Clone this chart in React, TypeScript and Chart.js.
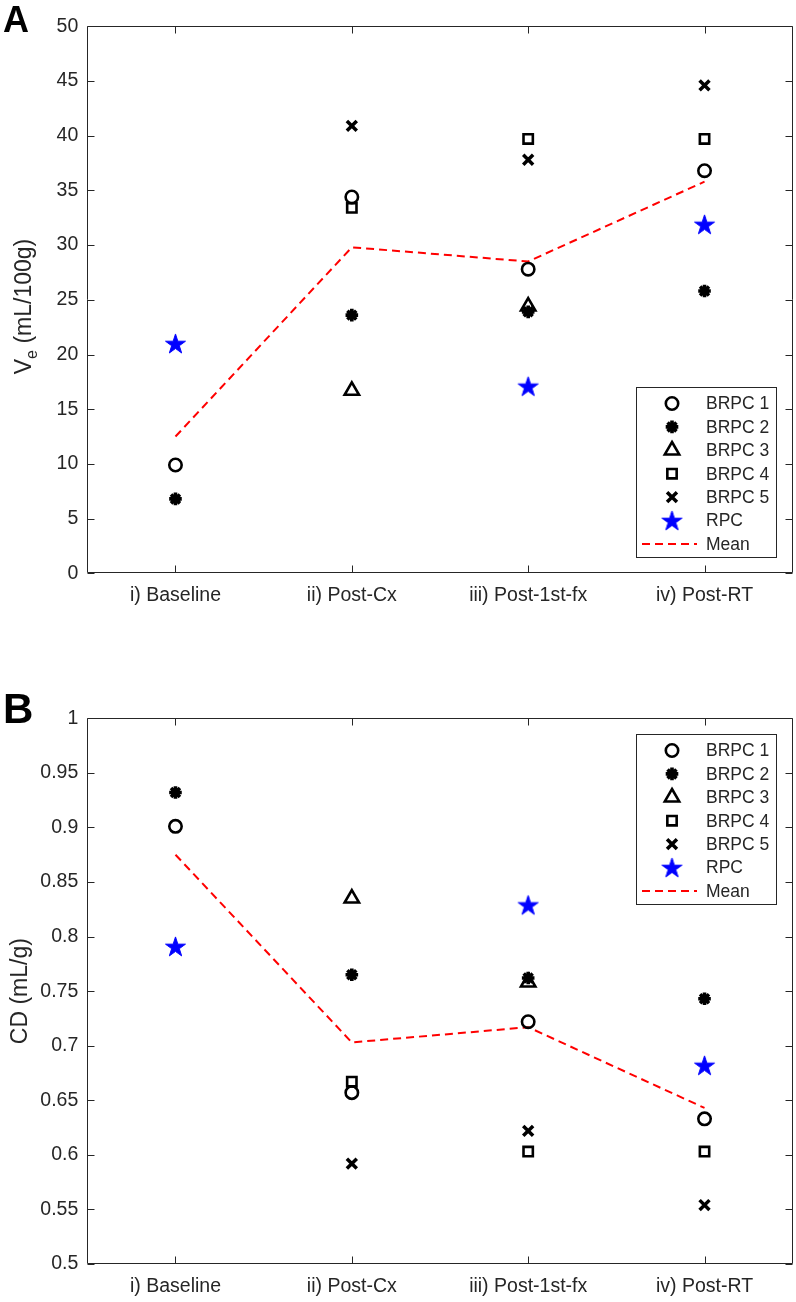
import React, { useEffect, useRef } from 'react';
import { Chart, registerables } from 'chart.js';
import { drawPoint } from 'chart.js/helpers';

Chart.register(...registerables);

// ---------- data ----------
const categories = ['i) Baseline', 'ii) Post-Cx', 'iii) Post-1st-fx', 'iv) Post-RT'];
const seriesNames = ['BRPC 1', 'BRPC 2', 'BRPC 3', 'BRPC 4', 'BRPC 5', 'RPC', 'Mean'];

// Panel A: Ve (mL/100g)
const veBRPC1 = [9.9, 34.4, 27.8, 36.8];
const veBRPC2 = [6.8, 23.6, 23.9, 25.8];
const veBRPC3 = [null, 16.7, 24.4, null];
const veBRPC4 = [null, 33.4, 39.7, 39.7];
const veBRPC5 = [null, 40.9, 37.8, 44.6];
const veRPC = [21.0, null, 17.1, 31.9];
const veMean = [12.5, 29.8, 28.5, 35.8];
const veTicks = [0, 5, 10, 15, 20, 25, 30, 35, 40, 45, 50];

// Panel B: CD (mL/g)
const cdBRPC1 = [0.901, 0.657, 0.722, 0.633];
const cdBRPC2 = [0.932, 0.765, 0.762, 0.743];
const cdBRPC3 = [null, 0.835, 0.758, null];
const cdBRPC4 = [null, 0.667, 0.603, 0.603];
const cdBRPC5 = [null, 0.592, 0.622, 0.554];
const cdRPC = [0.791, null, 0.829, 0.682];
const cdMean = [0.875, 0.703, 0.717, 0.643];
const cdTicks = [0.5, 0.55, 0.6, 0.65, 0.7, 0.75, 0.8, 0.85, 0.9, 0.95, 1];

// ---------- styling ----------
const AXIS = '#262626';
const FONT = '"Liberation Sans", Arial, Helvetica, sans-serif';
const W = 796;
const H = 651;

function makePentagram(color: string, R: number): HTMLCanvasElement {
  const size = Math.ceil(R * 2 + 2);
  const c = document.createElement('canvas');
  c.width = size;
  c.height = size;
  const g = c.getContext('2d')!;
  const cx = size / 2;
  const cy = size / 2 + R * 0.09;
  g.beginPath();
  for (let k = 0; k < 10; k++) {
    const r = k % 2 === 0 ? R : R * 0.382;
    const a = -Math.PI / 2 + (k * Math.PI) / 5;
    const px = cx + r * Math.cos(a);
    const py = cy + r * Math.sin(a);
    if (k === 0) g.moveTo(px, py);
    else g.lineTo(px, py);
  }
  g.closePath();
  g.fillStyle = color;
  g.fill();
  g.strokeStyle = color;
  g.lineWidth = 1;
  g.stroke();
  return c;
}

const framePlugin = {
  id: 'matFrame',
  beforeDatasetsDraw(chart: any) {
    const { ctx, chartArea: a, scales } = chart;
    const L = Math.round(a.left) + 0.5;
    const R = Math.round(a.right) - 0.5;
    const T = Math.round(a.top) + 0.5;
    const B = Math.round(a.bottom) - 0.5;
    const tl = 7;
    ctx.save();
    ctx.strokeStyle = AXIS;
    ctx.lineWidth = 1;
    ctx.beginPath();
    ctx.rect(L, T, R - L, B - T);
    scales.y.ticks.forEach((t: any) => {
      const y = Math.round(scales.y.getPixelForValue(t.value)) + 0.5;
      ctx.moveTo(L, y);
      ctx.lineTo(L + tl, y);
      ctx.moveTo(R, y);
      ctx.lineTo(R - tl, y);
    });
    scales.x.ticks.forEach((_t: any, i: number) => {
      const x = Math.round(scales.x.getPixelForTick(i)) + 0.5;
      ctx.moveTo(x, B);
      ctx.lineTo(x, B - tl);
      ctx.moveTo(x, T);
      ctx.lineTo(x, T + tl);
    });
    ctx.stroke();
    ctx.restore();
  },
};

const textPlugin = {
  id: 'matText',
  afterDraw(chart: any, _args: any, opts: any) {
    const { ctx } = chart;
    ctx.save();
    ctx.fillStyle = '#000';
    ctx.font = `bold ${opts.letterSize}px ${FONT}`;
    ctx.textAlign = 'left';
    ctx.textBaseline = 'alphabetic';
    ctx.fillText(opts.letter, opts.letterX, opts.letterY);
    ctx.fillStyle = AXIS;
    const parts = opts.titleParts as { text: string; size: number; dy: number }[];
    let total = 0;
    parts.forEach((p) => {
      ctx.font = `${p.size}px ${FONT}`;
      total += ctx.measureText(p.text).width;
    });
    const a = chart.chartArea;
    const cy = opts.titleCy != null ? opts.titleCy : (a.top + a.bottom) / 2;
    ctx.translate(opts.titleX, cy);
    ctx.rotate(-Math.PI / 2);
    let x = -total / 2;
    parts.forEach((p) => {
      ctx.font = `${p.size}px ${FONT}`;
      ctx.fillText(p.text, x, p.dy);
      x += ctx.measureText(p.text).width;
    });
    ctx.restore();
  },
};

const legendPlugin = {
  id: 'matLegend',
  afterDraw(chart: any, _args: any, opts: any) {
    const { ctx, chartArea: a } = chart;
    const bw = opts.width;
    const bh = opts.height;
    const left = a.right - opts.offsetRight - bw;
    const top = opts.anchor === 'bottom' ? a.bottom - opts.offsetBottom - bh : a.top + opts.offsetTop;
    ctx.save();
    const L = Math.round(left) + 0.5;
    const T = Math.round(top) + 0.5;
    ctx.fillStyle = '#fff';
    ctx.fillRect(L, T, bw, bh);
    ctx.strokeStyle = AXIS;
    ctx.lineWidth = 1;
    ctx.strokeRect(L, T, Math.round(bw), Math.round(bh));
    chart.data.datasets.forEach((ds: any, i: number) => {
      const cy = top + 16.5 + i * 23.4;
      if (ds.showLine === false) {
        ctx.save();
        ctx.strokeStyle = ds.pointBorderColor;
        ctx.fillStyle = ds.pointBackgroundColor;
        ctx.lineWidth = ds.pointBorderWidth;
        ctx.setLineDash([]);
        drawPoint(
          ctx,
          { pointStyle: ds.pointStyle, radius: ds.pointRadius, borderWidth: ds.pointBorderWidth, rotation: 0 } as any,
          left + 36,
          cy
        );
        ctx.restore();
      } else {
        ctx.save();
        ctx.strokeStyle = ds.borderColor;
        ctx.lineWidth = ds.borderWidth;
        ctx.setLineDash(ds.borderDash || []);
        ctx.beginPath();
        ctx.moveTo(left + 6, cy);
        ctx.lineTo(left + 61, cy);
        ctx.stroke();
        ctx.restore();
      }
      ctx.fillStyle = AXIS;
      ctx.font = `${opts.fontSize}px ${FONT}`;
      ctx.textAlign = 'left';
      ctx.textBaseline = 'middle';
      ctx.fillText(ds.label, left + 70, cy + 1);
    });
    ctx.restore();
  },
};

type Spec = {
  values: (number | null)[][];
  mean: number[];
  ticks: number[];
  padTop: number;
  xHeight: number;
  letter: string;
  letterSize: number;
  letterY: number;
  titleParts: { text: string; size: number; dy: number }[];
  titleX: number;
  titleCy?: number;
  legend: any;
};

function buildConfig(spec: Spec, star: HTMLCanvasElement): any {
  const markerStyles = [
    { pointStyle: 'circle', pointRadius: 6.2, pointBorderWidth: 2.6 },
    { pointStyle: 'star', pointRadius: 6.3, pointBorderWidth: 3.6 },
    { pointStyle: 'triangle', pointRadius: 8.3, pointBorderWidth: 2.6 },
    { pointStyle: 'rect', pointRadius: 6.6, pointBorderWidth: 2.6 },
    { pointStyle: 'crossRot', pointRadius: 7, pointBorderWidth: 3.5 },
    { pointStyle: star, pointRadius: 10, pointBorderWidth: 0 },
  ];
  const datasets: any[] = spec.values.map((vals, i) => ({
    label: seriesNames[i],
    data: vals,
    showLine: false,
    pointStyle: markerStyles[i].pointStyle,
    pointRadius: markerStyles[i].pointRadius,
    pointHoverRadius: markerStyles[i].pointRadius,
    pointBorderWidth: markerStyles[i].pointBorderWidth,
    pointHoverBorderWidth: markerStyles[i].pointBorderWidth,
    pointBorderColor: '#000000',
    pointBackgroundColor: 'rgba(0,0,0,0)',
  }));
  datasets.push({
    label: seriesNames[6],
    data: spec.mean,
    showLine: true,
    borderColor: '#ff0000',
    borderWidth: 2,
    borderDash: [8, 5],
    pointRadius: 0,
    pointHoverRadius: 0,
    fill: false,
    tension: 0,
  });
  const ticks = spec.ticks;
  return {
    type: 'line',
    data: { labels: categories, datasets },
    options: {
      responsive: false,
      animation: false,
      devicePixelRatio: 1,
      events: [],
      layout: { autoPadding: false, padding: { top: spec.padTop, right: 3.3, bottom: 0, left: 0 } },
      scales: {
        x: {
          type: 'category',
          offset: true,
          grid: { display: false, drawTicks: false, tickLength: 0 },
          border: { display: false },
          ticks: { color: AXIS, font: { family: FONT, size: 19.5 }, padding: 11, maxRotation: 0, autoSkip: false },
          afterFit: (s: any) => {
            s.height = spec.xHeight;
          },
        },
        y: {
          type: 'linear',
          min: ticks[0],
          max: ticks[ticks.length - 1],
          grid: { display: false, drawTicks: false, tickLength: 0 },
          border: { display: false },
          afterBuildTicks: (s: any) => {
            s.ticks = ticks.map((v) => ({ value: v }));
          },
          ticks: {
            color: AXIS,
            font: { family: FONT, size: 19.5 },
            padding: 9,
            callback: (v: any) => String(+Number(v).toFixed(2)),
          },
          afterFit: (s: any) => {
            s.width = 87.3;
          },
        },
      },
      plugins: {
        legend: { display: false },
        tooltip: { enabled: false },
        matText: {
          letter: spec.letter,
          letterSize: spec.letterSize,
          letterX: 3,
          letterY: spec.letterY,
          titleParts: spec.titleParts,
          titleX: spec.titleX,
          titleCy: spec.titleCy,
        },
        matLegend: spec.legend,
      },
    },
    plugins: [framePlugin, textPlugin, legendPlugin],
  };
}

function Panel({ spec, top }: { spec: Spec; top: number }) {
  const ref = useRef<HTMLCanvasElement>(null);
  useEffect(() => {
    const star = makePentagram('#0000ff', 10.5);
    const chart = new Chart(ref.current!, buildConfig(spec, star));
    return () => chart.destroy();
  }, []);
  return (
    <canvas
      ref={ref}
      width={W}
      height={H}
      style={{ position: 'absolute', left: 0, top, width: W, height: H, display: 'block' }}
    />
  );
}

const specA: Spec = {
  values: [veBRPC1, veBRPC2, veBRPC3, veBRPC4, veBRPC5, veRPC],
  mean: veMean,
  ticks: veTicks,
  padTop: 26.3,
  xHeight: 77.7,
  letter: 'A',
  letterSize: 36,
  letterY: 32,
  titleParts: [
    { text: 'V', size: 23, dy: 0 },
    { text: 'e', size: 16, dy: 5.5 },
    { text: ' (mL/100g)', size: 23, dy: 0 },
  ],
  titleX: 31,
  titleCy: 306.5,
  legend: { anchor: 'bottom', width: 140, height: 170, offsetRight: 16.7, offsetBottom: 16.3, fontSize: 17.5 },
};

const specB: Spec = {
  values: [cdBRPC1, cdBRPC2, cdBRPC3, cdBRPC4, cdBRPC5, cdRPC],
  mean: cdMean,
  ticks: cdTicks,
  padTop: 67.3,
  xHeight: 38,
  letter: 'B',
  letterSize: 42,
  letterY: 72.3,
  titleParts: [{ text: 'CD (mL/g)', size: 23, dy: 0 }],
  titleX: 27,
  legend: { anchor: 'top', width: 140, height: 170, offsetRight: 16.7, offsetTop: 15.7, fontSize: 17.5 },
};

export default function App() {
  return (
    <div style={{ position: 'absolute', left: 0, top: 0, width: W, height: 2 * H, background: '#ffffff' }}>
      <Panel spec={specA} top={0} />
      <Panel spec={specB} top={H} />
    </div>
  );
}
